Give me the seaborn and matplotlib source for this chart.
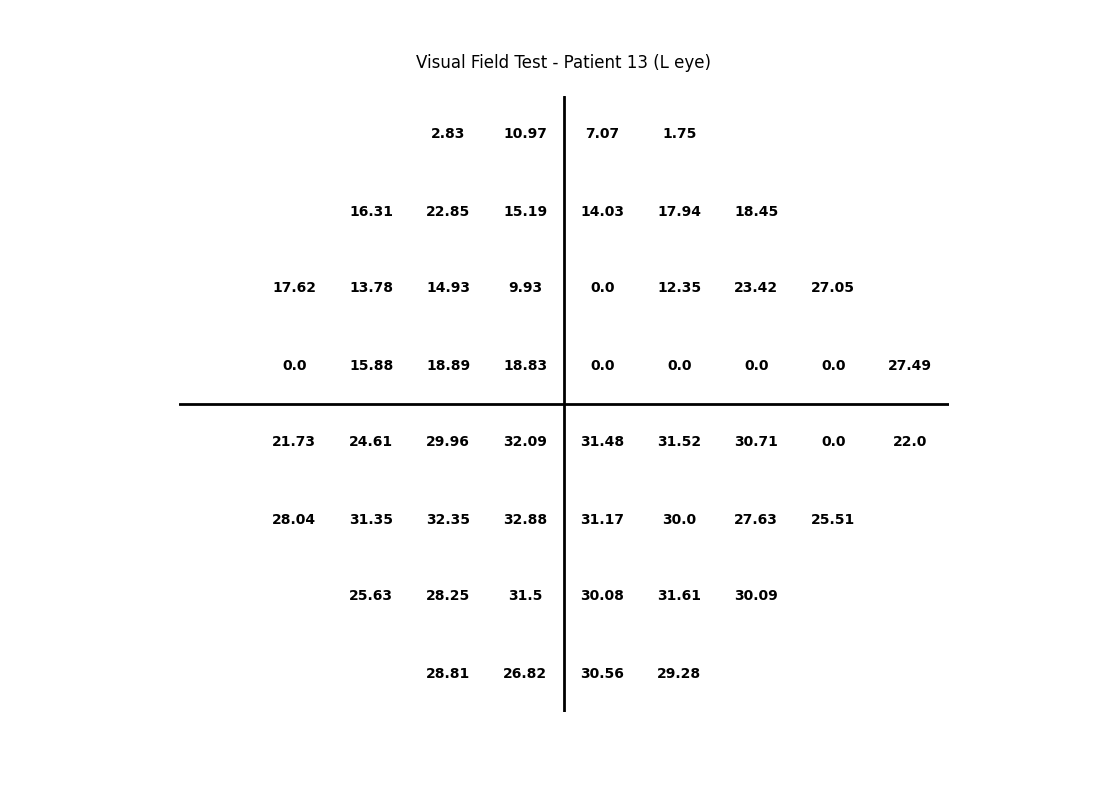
import numpy as np
import pandas as pd
import seaborn as sns
import matplotlib
matplotlib.use("Agg")
import matplotlib.pyplot as plt

# visual field values, one list per row (top to bottom), with the column each row starts at
row0 = [2.83, 10.97, 7.07, 1.75]
row1 = [16.31, 22.85, 15.19, 14.03, 17.94, 18.45]
row2 = [17.62, 13.78, 14.93, 9.93, 0.0, 12.35, 23.42, 27.05]
row3 = [0.0, 15.88, 18.89, 18.83, 0.0, 0.0, 0.0, 0.0, 27.49]
row4 = [21.73, 24.61, 29.96, 32.09, 31.48, 31.52, 30.71, 0.0, 22.0]
row5 = [28.04, 31.35, 32.35, 32.88, 31.17, 30.0, 27.63, 25.51]
row6 = [25.63, 28.25, 31.5, 30.08, 31.61, 30.09]
row7 = [28.81, 26.82, 30.56, 29.28]
rows = [row0, row1, row2, row3, row4, row5, row6, row7]
start_cols = [2, 1, 0, 0, 0, 0, 1, 2]

records = []
for r, (vals, c0) in enumerate(zip(rows, start_cols)):
    for i, v in enumerate(vals):
        records.append({'row': r, 'col': c0 + i, 'value': v})
df = pd.DataFrame(records)

sns.set_style("white")
fig, ax = plt.subplots(figsize=(11, 8), dpi=100)

for _, rec in df.iterrows():
    ax.text(rec['col'], rec['row'], str(rec['value']), ha='center', va='center',
            fontsize=10, fontweight='bold', color='black')

# cross through the middle of the field
ax.axhline(3.5, color='black', linewidth=2)
ax.axvline(3.5, color='black', linewidth=2)

ax.set_xlim(-1.5, 8.5)
ax.set_ylim(7.5, -0.5)
ax.set_aspect('equal')
ax.axis('off')
ax.set_title('Visual Field Test - Patient 13 (L eye)', fontsize=12, color='black', pad=20)

plt.savefig('out.png', dpi=100)
